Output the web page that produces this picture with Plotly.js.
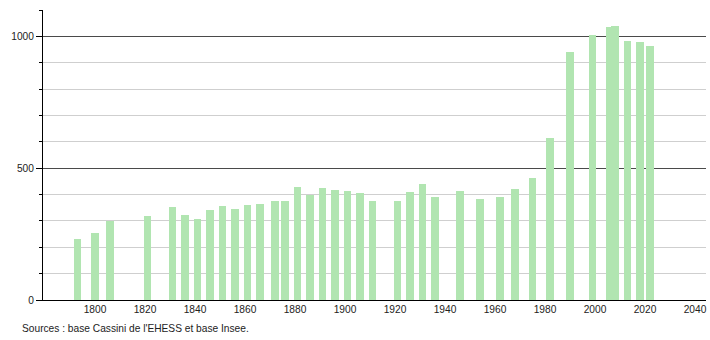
<!DOCTYPE html>
<html>
<head>
<meta charset="utf-8">
<script src="https://cdn.plot.ly/plotly-3.0.1.min.js"></script>
<style>html,body{margin:0;padding:0;background:#fff;}#chart{width:710px;height:340px;}</style>
</head>
<body>
<div id="chart"></div>
<script>
const years = [1793, 1800, 1806, 1821, 1831, 1836, 1841, 1846, 1851, 1856, 1861, 1866, 1872, 1876, 1881, 1886, 1891, 1896, 1901, 1906, 1911, 1921, 1926, 1931, 1936, 1946, 1954, 1962, 1968, 1975, 1982, 1990, 1999, 2006, 2008, 2013, 2018, 2022];
const population = [232, 255, 299, 319, 354, 321, 308, 342, 357, 346, 361, 365, 376, 376, 430, 399, 426, 418, 414, 407, 376, 376, 411, 441, 392, 414, 384, 392, 422, 464, 616, 939, 1004, 1035, 1040, 981, 977, 962];
const sourceText = "Sources : base Cassini de l'EHESS et base Insee.";

const trace = {
  type: 'bar',
  x: years,
  y: population,
  width: 3,
  marker: {color: '#b1e5b1', line: {width: 0}},
  hoverinfo: 'x+y'
};

const layout = {
  width: 710,
  height: 340,
  margin: {l: 43, r: 4, t: 10, b: 40},
  paper_bgcolor: '#fff',
  plot_bgcolor: '#fff',
  showlegend: false,
  font: {family: 'Liberation Sans, Arial, sans-serif', size: 10.2, color: '#222'},
  xaxis: {
    range: [1779.2, 2044.4],
    tickvals: [1800, 1820, 1840, 1860, 1880, 1900, 1920, 1940, 1960, 1980, 2000, 2020, 2040],
    ticks: '',
    showgrid: false,
    zeroline: false,
    showline: true,
    linecolor: '#000',
    linewidth: 1,
    tickfont: {size: 10.2, color: '#222'}
  },
  yaxis: {
    range: [0, 1100],
    dtick: 500,
    tick0: 0,
    ticks: 'outside',
    ticklen: 6,
    tickcolor: '#000',
    showgrid: true,
    gridcolor: '#4a4a4a',
    gridwidth: 1,
    zeroline: false,
    showline: true,
    linecolor: '#000',
    linewidth: 1,
    tickfont: {size: 10.2, color: '#222'},
    minor: {dtick: 100, ticks: 'outside', ticklen: 3, tickcolor: '#000', showgrid: true, gridcolor: '#cfcfcf', gridwidth: 1}
  },
  bargap: 0,
  annotations: [{
    text: sourceText,
    xref: 'paper', yref: 'paper',
    x: -0.0347, y: -0.0966,
    xanchor: 'left', yanchor: 'middle',
    showarrow: false,
    font: {size: 10.2, color: '#222'}
  }]
};

Plotly.newPlot('chart', [trace], layout, {displayModeBar: false, staticPlot: true});
</script>
</body>
</html>
